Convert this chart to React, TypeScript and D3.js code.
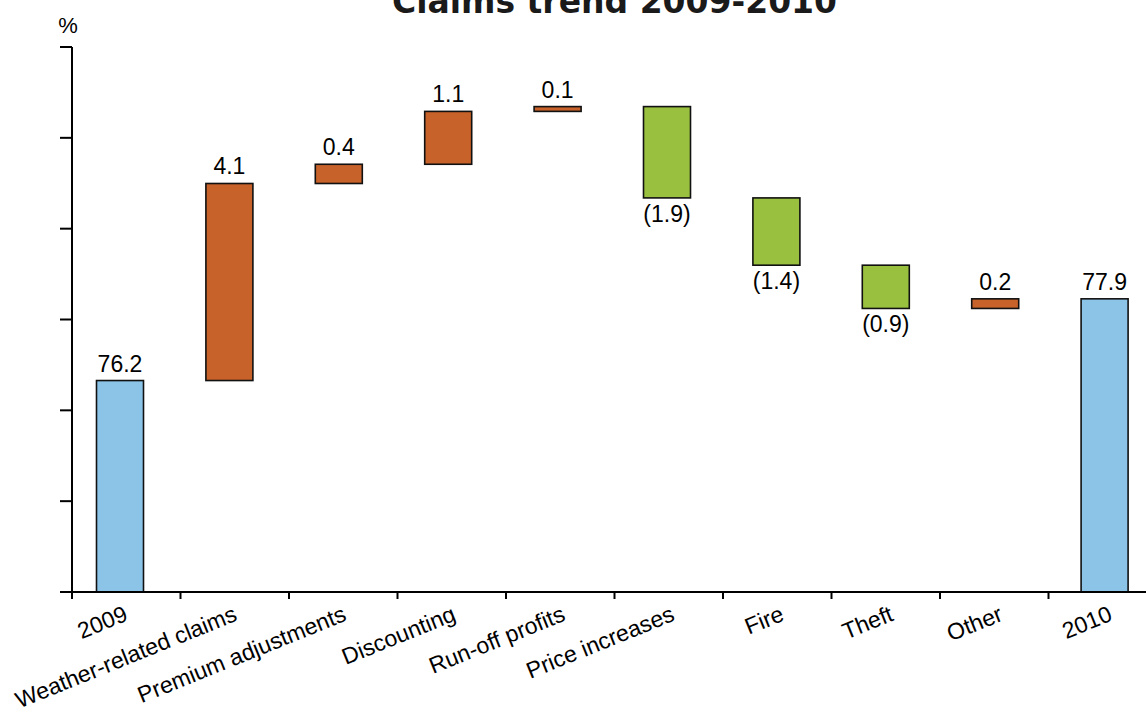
import React from "react";
import * as d3 from "d3";

// Waterfall of the claims ratio, 2009 to 2010 (%)
const categories = [
  "2009",
  "Weather-related claims",
  "Premium adjustments",
  "Discounting",
  "Run-off profits",
  "Price increases",
  "Fire",
  "Theft",
  "Other",
  "2010",
];
const openingValue = 76.2;
const changes = [4.1, 0.4, 1.1, 0.1, -1.9, -1.4, -0.9, 0.2];
const closingValue = 77.9;

const W = 1146;
const H = 715;
const axisX = 72;
const plotTop = 47;
const plotBottom = 592;
const plotRight = 1157;

const COLORS = { total: "#8CC4E8", up: "#C6622A", down: "#99C13F" };

type Step = { cat: string; y0: number; y1: number; value: number; kind: "total" | "up" | "down" };

function buildSteps(): Step[] {
  const steps: Step[] = [];
  steps.push({ cat: categories[0], y0: 0, y1: openingValue, value: openingValue, kind: "total" });
  let level = openingValue;
  changes.forEach((c, i) => {
    const next = level + c;
    steps.push({ cat: categories[i + 1], y0: level, y1: next, value: c, kind: c >= 0 ? "up" : "down" });
    level = next;
  });
  steps.push({ cat: categories[categories.length - 1], y0: 0, y1: closingValue, value: closingValue, kind: "total" });
  return steps;
}

const fmt = (v: number) => (v < 0 ? `(${Math.abs(v).toFixed(1)})` : v.toFixed(1));

export default function App() {
  const steps = buildSteps();
  const yMin = 71.8;
  const yMax = 83.14;
  const y = d3.scaleLinear().domain([yMin, yMax]).range([plotBottom, plotTop]);
  // bars and their labels
  const x = d3.scaleBand<string>().domain(categories).range([65.3, 1159.3]);
  // category divider ticks along the baseline
  const xTick = d3.scaleBand<string>().domain(categories).range([axisX, plotRight]);
  const step = x.step();
  const barW = 47;
  const yTicks = d3.range(7).map((i) => yMin + (i * (yMax - yMin)) / 6);

  const font = "'Liberation Sans', Arial, sans-serif";

  return (
    <div style={{ position: "absolute", left: 0, top: 0 }}>
      <svg width={W} height={H} style={{ display: "block", background: "#fff" }}>
        <text
          x={(axisX + plotRight) / 2}
          y={13}
          textAnchor="middle"
          fontFamily="'DejaVu Sans', Verdana, sans-serif"
          fontWeight="bold"
          fontSize={33}
          fill="#1a1a1a"
        >
          Claims trend 2009-2010
        </text>
        <text x={68} y={33} textAnchor="middle" fontFamily={font} fontSize={22} fill="#000">
          %
        </text>

        {/* bars */}
        {steps.map((s) => {
          const cx = (x(s.cat) ?? 0) + step / 2;
          const top = y(Math.max(s.y0, s.y1));
          const bottom = s.kind === "total" ? plotBottom : y(Math.min(s.y0, s.y1));
          return (
            <g key={s.cat}>
              <rect
                x={cx - barW / 2}
                y={top}
                width={barW}
                height={bottom - top}
                fill={COLORS[s.kind]}
                stroke="#111"
                strokeWidth={1.6}
              />
              {s.kind === "down" ? (
                <text x={cx} y={bottom + 24} textAnchor="middle" fontFamily={font} fontSize={23} fill="#000">
                  {fmt(s.value)}
                </text>
              ) : (
                <text x={cx} y={top - 9} textAnchor="middle" fontFamily={font} fontSize={23} fill="#000">
                  {fmt(s.value)}
                </text>
              )}
            </g>
          );
        })}

        {/* y axis */}
        <line x1={axisX} x2={axisX} y1={plotTop} y2={plotBottom} stroke="#000" strokeWidth={2} />
        {yTicks.map((t) => (
          <line key={t} x1={axisX - 12} x2={axisX} y1={y(t)} y2={y(t)} stroke="#000" strokeWidth={2} />
        ))}

        {/* x axis */}
        <line x1={60} x2={W} y1={plotBottom} y2={plotBottom} stroke="#000" strokeWidth={2} />
        {categories.map((c) => (
          <line
            key={c}
            x1={xTick(c) ?? 0}
            x2={xTick(c) ?? 0}
            y1={plotBottom}
            y2={plotBottom + 7}
            stroke="#000"
            strokeWidth={2}
          />
        ))}
        {categories.map((c) => {
          const cx = (x(c) ?? 0) + step / 2 + 9;
          return (
            <text
              key={c}
              transform={`translate(${cx},${plotBottom + 28}) rotate(-22)`}
              textAnchor="end"
              fontFamily={font}
              fontSize={23}
              fill="#000"
            >
              {c}
            </text>
          );
        })}
      </svg>
    </div>
  );
}
